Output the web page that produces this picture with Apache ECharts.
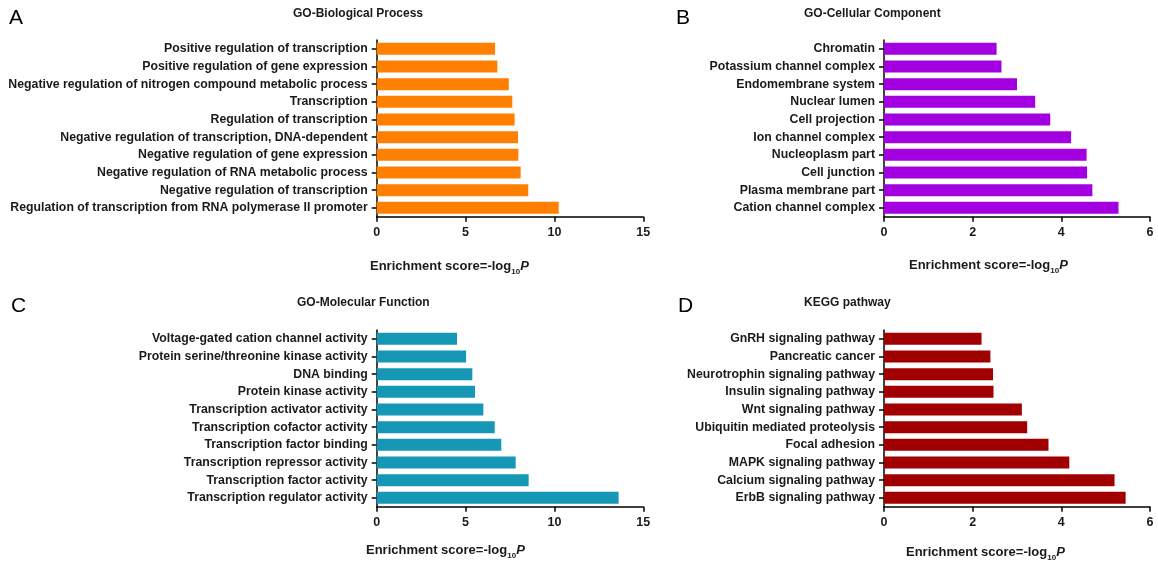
<!DOCTYPE html>
<html>
<head>
<meta charset="utf-8">
<script src="https://cdn.jsdelivr.net/npm/echarts@6/dist/echarts.min.js"></script>
<style>
html,body{margin:0;padding:0;background:#fff;}
#chart{width:1158px;height:562px;}
</style>
</head>
<body>
<div id="chart"></div>
<script>
// ---- Data (top to bottom order) ----
const bpCategories = [
  'Positive regulation of transcription',
  'Positive regulation of gene expression',
  'Negative regulation of nitrogen compound metabolic process',
  'Transcription',
  'Regulation of transcription',
  'Negative regulation of transcription, DNA-dependent',
  'Negative regulation of gene expression',
  'Negative regulation of RNA metabolic process',
  'Negative regulation of transcription',
  'Regulation of transcription from RNA polymerase II promoter'
];
const bpValues = [6.66, 6.79, 7.43, 7.63, 7.76, 7.95, 7.97, 8.10, 8.53, 10.24];

const ccCategories = [
  'Chromatin',
  'Potassium channel complex',
  'Endomembrane system',
  'Nuclear lumen',
  'Cell projection',
  'Ion channel complex',
  'Nucleoplasm part',
  'Cell junction',
  'Plasma membrane part',
  'Cation channel complex'
];
const ccValues = [2.54, 2.65, 3.00, 3.41, 3.75, 4.22, 4.57, 4.58, 4.70, 5.29];

const mfCategories = [
  'Voltage-gated cation channel activity',
  'Protein serine/threonine kinase activity',
  'DNA binding',
  'Protein kinase activity',
  'Transcription activator activity',
  'Transcription cofactor activity',
  'Transcription factor binding',
  'Transcription repressor activity',
  'Transcription factor activity',
  'Transcription regulator activity'
];
const mfValues = [4.52, 5.03, 5.38, 5.53, 6.00, 6.64, 7.01, 7.82, 8.55, 13.61];

const keggCategories = [
  'GnRH signaling pathway',
  'Pancreatic cancer',
  'Neurotrophin signaling pathway',
  'Insulin signaling pathway',
  'Wnt signaling pathway',
  'Ubiquitin mediated proteolysis',
  'Focal adhesion',
  'MAPK signaling pathway',
  'Calcium signaling pathway',
  'ErbB signaling pathway'
];
const keggValues = [2.20, 2.40, 2.46, 2.47, 3.11, 3.23, 3.71, 4.18, 5.20, 5.45];

const panelTitles = ['GO-Biological Process', 'GO-Cellular Component', 'GO-Molecular Function', 'KEGG pathway'];
const panelLetters = ['A', 'B', 'C', 'D'];
const xMaxes = [15, 6, 15, 6];
const xIntervals = [5, 2, 5, 2];

// ---- Layout / style ----
const FONT = '"Liberation Sans", Arial, sans-serif';
const TXT = '#1a1a1a';
const colors = ['#FF8000', '#A200E0', '#1597B5', '#A00000'];
const grids = [
  {left: 376.7, right: 514.7, top: 40, bottom: 345.3},
  {left: 884, right: 8, top: 40, bottom: 345.3},
  {left: 376.7, right: 514.7, top: 330, bottom: 55.3},
  {left: 884, right: 8, top: 330, bottom: 55.3}
];
const cats = [bpCategories, ccCategories, mfCategories, keggCategories];
const vals = [bpValues, ccValues, mfValues, keggValues];

const titlePos = [
  {left: 293, top: 8},
  {left: 804, top: 8},
  {left: 297, top: 297},
  {left: 804, top: 297}
];
const letterPos = [
  {left: 9, top: 8},
  {left: 676, top: 8},
  {left: 11, top: 296},
  {left: 678, top: 296}
];
const axisNamePos = [
  {left: 370, top: 258},
  {left: 909, top: 257},
  {left: 366, top: 542},
  {left: 906, top: 544}
];

const axisLineStyle = {color: '#000', width: 1.5};

const titles = [];
for (let i = 0; i < 4; i++) {
  titles.push({
    text: panelTitles[i], left: titlePos[i].left, top: titlePos[i].top, padding: 0,
    textStyle: {fontFamily: FONT, fontSize: 12, fontWeight: 'bold', color: TXT}
  });
  titles.push({
    text: panelLetters[i], left: letterPos[i].left, top: letterPos[i].top, padding: 0,
    textStyle: {fontFamily: FONT, fontSize: 21, fontWeight: 'normal', color: '#000'}
  });
  titles.push({
    text: 'Enrichment score=-log{sub|10}{it|P}', left: axisNamePos[i].left, top: axisNamePos[i].top, padding: 0,
    textStyle: {
      fontFamily: FONT, fontSize: 13, fontWeight: 'bold', color: TXT, lineHeight: 16,
      rich: {
        sub: {fontFamily: FONT, fontSize: 8, fontWeight: 'bold', color: TXT, verticalAlign: 'bottom', lineHeight: 16, padding: [0, 0, -2, 0]},
        it: {fontFamily: FONT, fontSize: 13, fontWeight: 'bold', fontStyle: 'italic', color: TXT, lineHeight: 16}
      }
    }
  });
}

const xAxes = [], yAxes = [], series = [];
for (let i = 0; i < 4; i++) {
  xAxes.push({
    type: 'value', gridIndex: i, min: 0, max: xMaxes[i], interval: xIntervals[i],
    axisLine: {show: true, lineStyle: axisLineStyle},
    axisTick: {show: true, length: 5, lineStyle: axisLineStyle},
    axisLabel: {fontFamily: FONT, fontSize: 12.5, fontWeight: 'bold', color: TXT, margin: 9},
    splitLine: {show: false}
  });
  yAxes.push({
    type: 'category', gridIndex: i, data: cats[i], inverse: true,
    axisLine: {show: true, lineStyle: axisLineStyle},
    axisTick: {show: true, length: 5, alignWithLabel: true, lineStyle: axisLineStyle},
    axisLabel: {fontFamily: FONT, fontSize: 12.3, fontWeight: 'bold', color: TXT, margin: 9},
    splitLine: {show: false}
  });
  series.push({
    type: 'bar', xAxisIndex: i, yAxisIndex: i, data: vals[i], barWidth: 12,
    itemStyle: {color: colors[i]}, silent: true
  });
}

const chart = echarts.init(document.getElementById('chart'), null, {renderer: 'canvas'});
chart.setOption({
  animation: false,
  backgroundColor: '#fff',
  title: titles,
  grid: grids,
  xAxis: xAxes,
  yAxis: yAxes,
  series: series
});
</script>
</body>
</html>
